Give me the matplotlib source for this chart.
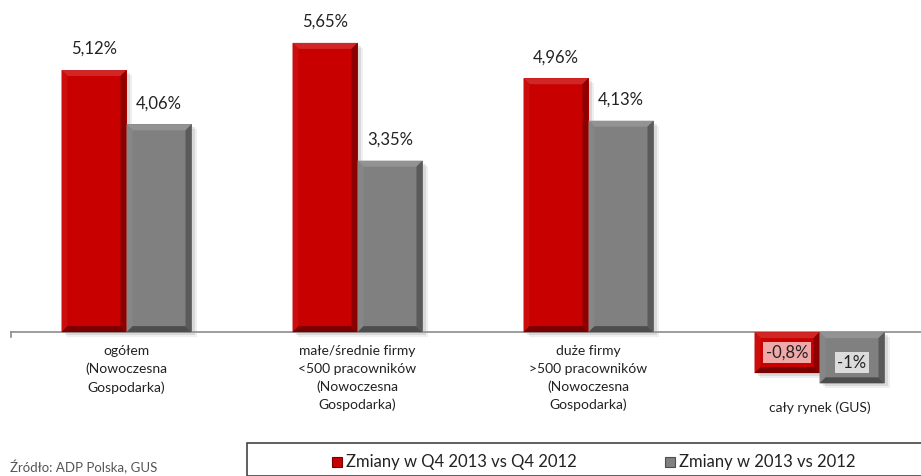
import numpy as np
import matplotlib.pyplot as plt
from matplotlib.patches import Polygon, Rectangle
import matplotlib.colors as mcolors

plt.rcParams['font.family'] = ['Lato', 'DejaVu Sans']

# dane
kategorie = ['ogółem\n(Nowoczesna\nGospodarka)',
             'małe/średnie firmy\n<500 pracowników\n(Nowoczesna\nGospodarka)',
             'duże firmy\n>500 pracowników\n(Nowoczesna\nGospodarka)',
             'cały rynek (GUS)']
zmiany_q4 = [5.12, 5.65, 4.96, -0.8]
zmiany_rok = [4.06, 3.35, 4.13, -1.0]
etykiety_q4 = ['5,12%', '5,65%', '4,96%', '-0,8%']
etykiety_rok = ['4,06%', '3,35%', '4,13%', '-1%']
seria = ['Zmiany w Q4 2013 vs Q4 2012', 'Zmiany w 2013 vs 2012']

czerwony = '#C80000'
szary = '#808080'

fig = plt.figure(figsize=(9.21, 4.76), dpi=100)
W, H = 921, 476
ax = fig.add_axes([11 / W, 1 - 390 / H, 924 / W, 385 / H])
ax.set_xlim(0, 4)
ax.set_ylim(-1.13, 6.39)
ax.axis('off')

px_x = 1 / 231.0   # jednostki danych na piksel
px_y = 1 / 51.2


def shade(c, f):
    r, g, b = mcolors.to_rgb(c)
    if f > 1:
        return (r + (1 - r) * (f - 1), g + (1 - g) * (f - 1), b + (1 - b) * (f - 1))
    return (r * f, g * f, b * f)


def bar_bevel(x0, w, v, color):
    y0, y1 = min(0, v), max(0, v)
    x1 = x0 + w
    dx, dy = 6 * px_x, 6 * px_y
    # cien
    for k, a in [(5, 0.15), (3, 0.25)]:
        ax.add_patch(Rectangle((x0 + k * px_x, y0 - k * px_y), w, y1 - y0,
                               color='#999999', alpha=a, zorder=1, lw=0))
    ax.add_patch(Rectangle((x0, y0), w, y1 - y0, color=color, zorder=2, lw=0))
    ix0, ix1, iy0, iy1 = x0 + dx, x1 - dx, y0 + dy, y1 - dy
    faces = [
        ([(x0, y1), (x1, y1), (ix1, iy1), (ix0, iy1)], shade(color, 1.15)),
        ([(x0, y0), (x0, y1), (ix0, iy1), (ix0, iy0)], shade(color, 1.05)),
        ([(x1, y0), (x1, y1), (ix1, iy1), (ix1, iy0)], shade(color, 0.7)),
        ([(x0, y0), (x1, y0), (ix1, iy0), (ix0, iy0)], shade(color, 0.6)),
    ]
    for pts, c in faces:
        ax.add_patch(Polygon(pts, closed=True, color=c, zorder=3, lw=0))


w = 65 * px_x
x = np.arange(4) + 0.5
for i in range(4):
    bar_bevel(x[i] - w, w, zmiany_q4[i], czerwony)
    bar_bevel(x[i], w, zmiany_rok[i], szary)

# os
ax.plot([0, 4], [0, 0], color='#8c8c8c', lw=1.2, zorder=0, clip_on=False)
ax.plot([0, 0], [0, -5 * px_y], color='#8c8c8c', lw=1.2, clip_on=False)

# etykiety wartosci
for i in range(3):
    ax.text(x[i] - w / 2, zmiany_q4[i] + 21 * px_y, etykiety_q4[i],
            ha='center', va='center', fontsize=12, color='#222222')
    ax.text(x[i] + w / 2, zmiany_rok[i] + 21 * px_y, etykiety_rok[i],
            ha='center', va='center', fontsize=12, color='#222222')
ax.text(x[3] - w / 2, zmiany_q4[3] / 2, etykiety_q4[3], ha='center', va='center',
        fontsize=12, color='#222222', zorder=5,
        bbox=dict(boxstyle='square,pad=0.15', fc='#f0a8a8', ec='none'))
ax.text(x[3] + w / 2, zmiany_rok[3] * 0.6, etykiety_rok[3], ha='center', va='center',
        fontsize=12, color='#222222', zorder=5,
        bbox=dict(boxstyle='square,pad=0.15', fc='#dcdcdc', ec='none'))

# kategorie
for i in range(4):
    y_top = -13 * px_y if i < 3 else -69 * px_y
    ax.text(x[i], y_top, kategorie[i], ha='center', va='top', fontsize=10,
            color='#222222', linespacing=1.55, clip_on=False)

# zrodlo
fig.text(10 / W, 1 - 467 / H, 'Źródło: ADP Polska, GUS', fontsize=9.5,
         color='#555555', va='center', ha='left')

# legenda
fig.patches.append(Rectangle((247 / W, 0), 1, 1 - 443 / H, transform=fig.transFigure,
                             fc='white', ec='#444444', lw=1.2, zorder=0))
for xp, txt, c in [(332, seria[0], czerwony), (665, seria[1], szary)]:
    fig.patches.append(Rectangle((xp / W, 1 - 467 / H), 10 / W, 10 / H,
                                 transform=fig.transFigure, fc=c, ec=shade(c, 0.6), lw=0.8))
    fig.text((xp + 14) / W, 1 - 462 / H, txt, fontsize=12, color='#222222',
             va='center', ha='left')

plt.savefig('out.png', dpi=100)
